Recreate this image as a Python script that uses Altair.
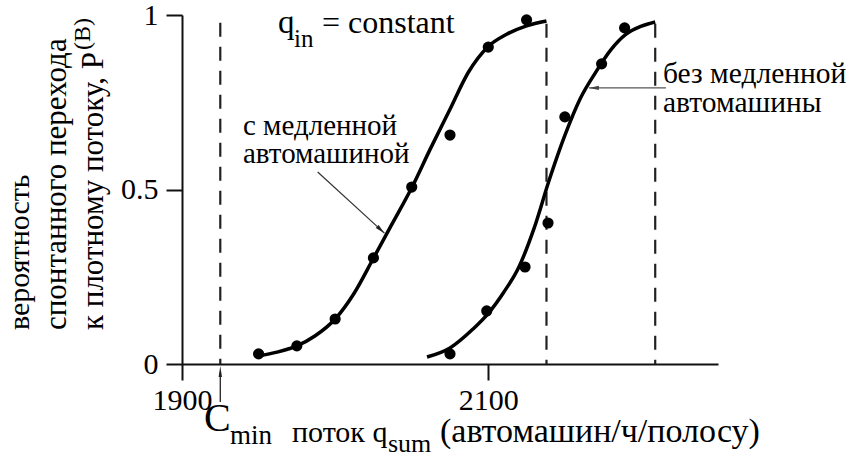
import altair as alt
import pandas as pd

# ---- data ----
slow_x = [1950, 1975, 2000, 2025, 2050, 2075, 2100, 2125]
slow_y = [0.029, 0.052, 0.129, 0.304, 0.507, 0.656, 0.908, 0.986]
fast_x = [2075, 2099, 2124, 2139, 2150, 2174, 2189]
fast_y = [0.029, 0.152, 0.278, 0.404, 0.708, 0.860, 0.963]

slow_curve_x = [1950, 1962, 1975, 1987, 2000, 2012, 2025, 2037, 2050, 2062, 2075, 2087, 2100, 2112, 2125, 2138]
slow_curve_y = [0.023, 0.034, 0.052, 0.081, 0.129, 0.200, 0.303, 0.400, 0.505, 0.615, 0.730, 0.836, 0.910, 0.945, 0.969, 0.983]
fast_curve_x = [2060, 2075, 2090, 2100, 2110, 2120, 2130, 2140, 2150, 2160, 2170, 2180, 2190, 2200, 2209]
fast_curve_y = [0.020, 0.046, 0.100, 0.145, 0.205, 0.278, 0.390, 0.530, 0.655, 0.760, 0.835, 0.900, 0.945, 0.968, 0.980]

dashed_x = [1925, 2138, 2209]
dashed_top = [0.978, 0.975, 0.975]

x_ticks = [1900, 2100]
y_ticks = [0, 0.5, 1]

X_DOMAIN = [1900, 2250]
Y_DOMAIN = [0, 1]

# ---- layout ----
W, H = 536, 349
PL, PT = 182, 15
FONT = "'Liberation Serif', 'Times New Roman', Times, 'DejaVu Serif', serif"

xs = alt.Scale(domain=X_DOMAIN, nice=False, zero=False)
ys = alt.Scale(domain=Y_DOMAIN, nice=False)

x_axis = alt.Axis(values=x_ticks, format="d", title=None, grid=False, tickSize=16,
                  tickWidth=2, domainWidth=2, labelFontSize=30, labelFont=FONT,
                  labelColor="black", tickColor="#111", domainColor="#111",
                  labelPadding=5, labelFlush=False)
y_axis = alt.Axis(values=y_ticks, format="~g", title=None, grid=False, tickSize=16,
                  tickWidth=2, domainWidth=2, labelFontSize=30, labelFont=FONT,
                  labelColor="black", tickColor="#111", domainColor="#111",
                  labelPadding=8, labelFlush=False)

slow_pts = pd.DataFrame({"x": slow_x, "y": slow_y})
fast_pts = pd.DataFrame({"x": fast_x, "y": fast_y})
slow_cur = pd.DataFrame({"x": slow_curve_x, "y": slow_curve_y})
fast_cur = pd.DataFrame({"x": fast_curve_x, "y": fast_curve_y})
dash_df = pd.DataFrame({"x": dashed_x, "top": dashed_top, "bottom": [0, 0, 0]})

X = alt.X("x:Q", scale=xs, axis=x_axis)
Y = alt.Y("y:Q", scale=ys, axis=y_axis)

dashes = alt.Chart(dash_df).mark_rule(strokeDash=[14, 10], strokeWidth=2.2, color="#222").encode(
    x=alt.X("x:Q", scale=xs, axis=x_axis),
    y=alt.Y("top:Q", scale=ys, axis=y_axis),
    y2="bottom:Q",
)

curve_slow = alt.Chart(slow_cur).mark_line(color="black", strokeWidth=3.5, interpolate="monotone").encode(x=X, y=Y)
curve_fast = alt.Chart(fast_cur).mark_line(color="black", strokeWidth=3.5, interpolate="monotone").encode(x=X, y=Y)
pts_slow = alt.Chart(slow_pts).mark_circle(color="black", size=125, opacity=1).encode(x=X, y=Y)
pts_fast = alt.Chart(fast_pts).mark_circle(color="black", size=125, opacity=1).encode(x=X, y=Y)

ARROW = "M0,0L-0.35,1.6L0.35,1.6Z"

# annotation arrows (data coordinates)
ann_lines = pd.DataFrame({
    "x": [1988.6, 2216.0], "y": [0.550, 0.791],
    "x2": [2032.2, 2165.8], "y2": [0.375, 0.791],
    "c": ["#333", "#555"],
})
ann_rules = alt.Chart(ann_lines).mark_rule(strokeWidth=1.2).encode(
    x=alt.X("x:Q", scale=xs, axis=x_axis), y=alt.Y("y:Q", scale=ys, axis=y_axis),
    x2="x2:Q", y2="y2:Q", color=alt.Color("c:N", scale=None),
)
heads = pd.DataFrame({"x": [2032.2, 2165.8], "y": [0.375, 0.791], "a": [132.3, 270.0], "c": ["#222", "#444"]})
ann_heads = alt.Chart(heads).mark_point(shape=ARROW, filled=True, size=150, opacity=1).encode(
    x=alt.X("x:Q", scale=xs, axis=x_axis), y=alt.Y("y:Q", scale=ys, axis=y_axis),
    angle=alt.Angle("a:Q", scale=None), color=alt.Color("c:N", scale=None),
)

# Cmin arrow below the axis
cmin_df = pd.DataFrame({"x": [1925]})
cmin_rule = alt.Chart(cmin_df).mark_rule(strokeWidth=1.3, color="#222").encode(
    x=alt.X("x:Q", scale=xs, axis=x_axis), y=alt.value(402 - PT), y2=alt.value(372 - PT))
cmin_head = alt.Chart(cmin_df).mark_point(shape="M0,0L-0.28,1.8L0.28,1.8Z", filled=True, size=150,
                                          opacity=1, color="#222").encode(
    x=alt.X("x:Q", scale=xs, axis=x_axis), y=alt.value(366 - PT))


def txt(text, px, py, size=30, angle=0, align="left"):
    return alt.Chart(pd.DataFrame({"t": [text]})).mark_text(
        align=align, baseline="alphabetic", fontSize=size, font=FONT, angle=angle, color="black"
    ).encode(x=alt.value(px - PL), y=alt.value(py - PT), text="t:N")


texts = [
    txt("q", 278, 33, 33), txt("in", 294, 47, 25), txt("= constant", 322, 33, 32),
    txt("с медленной", 243, 135, 29), txt("автомашиной", 243, 163, 29),
    txt("без медленной", 663, 83, 29.5), txt("автомашины", 663, 112, 29.5),
    txt("C", 204, 431, 40), txt("min", 230, 444, 27),
    txt("поток q", 292, 442, 30), txt("sum", 388, 452, 26), txt("(автомашин/ч/полосу)", 440, 442, 34),
    txt("вероятность", 29, 330, 30, angle=270),
    txt("спонтанного перехода", 66, 330, 31, angle=270),
    txt("к плотному потоку, P", 103, 330, 31, angle=270),
    txt("(B)", 90, 50, 24, angle=270),
]

chart = alt.layer(dashes, curve_slow, curve_fast, pts_slow, pts_fast, ann_rules, ann_heads,
                  cmin_rule, cmin_head, *texts).properties(
    width=W, height=H,
    autosize=alt.AutoSizeParams(type="none"),
    padding={"left": PL, "top": PT, "right": 846 - PL - W, "bottom": 452 - PT - H},
    background="white",
).configure_view(stroke=None)

chart.save("out.html", embed_options={"renderer": "svg", "actions": False})
